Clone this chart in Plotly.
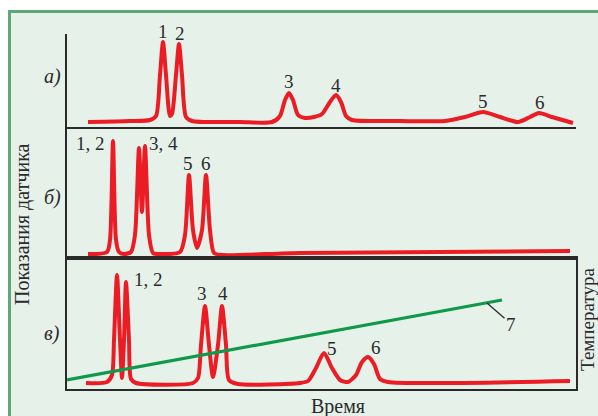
import plotly.graph_objects as go

# ---------------- data (time in arbitrary units, detector signal in arbitrary units) -------------
# a) isothermal, long column
time_a = [4.2, 12.6, 16.6, 17.8, 18.6, 19.2, 19.8, 20.6, 21.0, 21.8, 22.4, 23.0, 23.8, 25.0,
          34.6, 41.0, 42.6, 43.6, 44.4, 45.2, 46.2, 47.6, 49.4, 51.0, 52.6, 53.8, 54.8, 55.8,
          57.0, 66.6, 75.6, 79.6, 83.2, 86.6, 90.2, 92.6, 94.4, 97.0, 101.2]
signal_a = [5, 6, 7, 11, 52, 85, 52, 11, 13, 52, 83, 52, 10, 6,
            5, 5, 11, 27, 34, 27, 12, 9, 10, 13, 25, 32, 25, 11,
            7, 6, 6, 10, 15, 10, 5, 10, 14, 10, 4]

# b) isothermal, higher temperature
time_b = [4.2, 8.0, 8.6, 9.2, 9.8, 10.4, 11.4, 12.8, 13.6, 14.4, 15.0, 15.6, 16.4, 17.2,
          18.6, 22.6, 23.6, 24.4, 25.2, 26.0, 27.0, 27.8, 28.6, 29.4, 31.0, 46.6, 100.6]
signal_b = [4, 6, 18, 117, 18, 6, 4, 6, 23, 110, 46, 112, 23, 5,
            4, 6, 23, 83, 28, 10, 28, 83, 28, 5, 3, 5, 7]

# c) temperature-programmed
time_c = [3.8, 8.0, 9.0, 9.4, 10.0, 10.6, 11.0, 11.4, 11.8, 12.4, 12.8, 13.8, 25.2, 26.2,
          26.8, 27.6, 28.4, 29.2, 30.2, 31.0, 31.8, 32.4, 34.2, 46.6, 48.2, 49.8, 51.4, 53.0,
          54.6, 56.2, 57.8, 59.0, 60.2, 61.4, 62.6, 64.2, 100.6]
signal_c = [6, 7, 14, 49, 114, 49, 11, 49, 107, 49, 10, 6, 6, 11,
            44, 83, 44, 12, 44, 83, 44, 9, 5, 6, 8, 21, 36, 21,
            9, 7, 14, 27, 32, 25, 10, 7, 8]

# 7) temperature programme
time_temp = [0, 87]
temperature = [9, 89]

# peak labels: (text, time, signal, xshift, yshift)
labels_a = [("1", 19.2, 85, 0, 11), ("2", 22.4, 83, 1, 11), ("3", 44.4, 34, 0, 12),
            ("4", 53.8, 32, 0, 10), ("5", 83.2, 15, 0, 11), ("6", 94.4, 14, 1, 11)]
labels_b = [("1, 2", 9.2, 117, -23, -2), ("3, 4", 15.6, 112, 18, 3),
            ("5", 24.4, 83, -1, 12), ("6", 27.8, 83, 0, 12)]
labels_c = [("1, 2", 11.8, 107, 22, 3), ("3", 27.6, 83, -3, 13), ("4", 31.0, 83, 1, 13),
            ("5", 51.4, 36, 8, 5), ("6", 60.2, 32, 8, 10)]

panel_names = ["а)", "б)", "в)"]
x_title = "Время"
y_title = "Показания датчика"
y2_title = "Температура"

# ---------------- figure ----------------
W, H = 598, 416
RED = "#ec1c24"
GREEN = "#10994a"
INK = "#2a2a2a"
FONT = "Liberation Serif"

def px(x):
    return x / W

def py(y):
    return 1 - y / H

fig = go.Figure()
line_red = dict(color=RED, width=4, shape="spline", smoothing=0.7)
fig.add_trace(go.Scatter(x=time_a, y=signal_a, mode="lines", line=line_red,
                         xaxis="x", yaxis="y", showlegend=False, hoverinfo="skip"))
fig.add_trace(go.Scatter(x=time_b, y=signal_b, mode="lines", line=line_red,
                         xaxis="x2", yaxis="y2", showlegend=False, hoverinfo="skip"))
fig.add_trace(go.Scatter(x=time_c, y=signal_c, mode="lines", line=line_red,
                         xaxis="x3", yaxis="y3", showlegend=False, hoverinfo="skip"))
fig.add_trace(go.Scatter(x=time_temp, y=temperature, mode="lines",
                         line=dict(color=GREEN, width=3.2),
                         xaxis="x3", yaxis="y4", showlegend=False, hoverinfo="skip",
                         cliponaxis=False))

xdom = [px(67), px(576)]
common_x = dict(domain=xdom, range=[0, 101.8], showline=True, linecolor=INK, linewidth=2,
                showticklabels=False, showgrid=False, zeroline=False, ticks="", fixedrange=True)
common_y = dict(showline=True, linecolor=INK, linewidth=2, showticklabels=False,
                showgrid=False, zeroline=False, ticks="", fixedrange=True)

fig.update_layout(
    width=W, height=H,
    margin=dict(l=0, r=0, t=0, b=0),
    paper_bgcolor="white",
    plot_bgcolor="rgba(0,0,0,0)",
    xaxis=dict(**common_x, anchor="y"),
    xaxis2=dict(**common_x, anchor="y2"),
    xaxis3=dict(**common_x, anchor="y3", mirror=True),
    yaxis=dict(**common_y, domain=[py(127), py(34)], range=[0, 93], anchor="x"),
    yaxis2=dict(**common_y, domain=[py(258), py(127)], range=[0, 131], anchor="x2"),
    yaxis3=dict(**common_y, domain=[py(389), py(258)], range=[0, 131], anchor="x3", mirror=True),
    yaxis4=dict(overlaying="y3", side="right", range=[0, 131], showline=False,
                showticklabels=False, showgrid=False, zeroline=False, ticks="", anchor="x3"),
    font=dict(family=FONT, size=19, color=INK),
)

# green framed background panel
fig.add_shape(type="rect", xref="paper", yref="paper",
              x0=px(9.5), x1=1.05, y0=-0.05, y1=py(11.5),
              fillcolor="#e6f1ea", line=dict(color="#5ea77b", width=3), layer="below")

ann = []
for lbls, xr, yr in [(labels_a, "x", "y"), (labels_b, "x2", "y2"), (labels_c, "x3", "y3")]:
    for text, t, s, dx, dy in lbls:
        ann.append(dict(text=text, x=t, y=s, xref=xr, yref=yr, xshift=dx, yshift=dy,
                        showarrow=False, xanchor="center", yanchor="middle",
                        font=dict(family=FONT, size=19, color=INK)))

for name, (cx, cy) in zip(panel_names, [(52, 76), (52, 197), (52, 333)]):
    ann.append(dict(text="<i>" + name + "</i>", x=px(cx), y=py(cy), xref="paper", yref="paper",
                    showarrow=False, xanchor="center", yanchor="middle",
                    font=dict(family=FONT, size=20, color=INK)))

# label 7 with leader line
ann.append(dict(text="7", x=84, y=86, xref="x3", yref="y4", showarrow=True, arrowhead=0,
                arrowwidth=1.3, arrowcolor=INK, ax=24, ay=21, standoff=0,
                font=dict(family=FONT, size=19, color=INK)))

ann.append(dict(text=y_title, x=px(22), y=py(224), xref="paper", yref="paper", textangle=-90,
                showarrow=False, xanchor="center", yanchor="middle",
                font=dict(family=FONT, size=20, color=INK)))
ann.append(dict(text=x_title, x=px(338), y=py(406), xref="paper", yref="paper",
                showarrow=False, xanchor="center", yanchor="middle",
                font=dict(family=FONT, size=20, color=INK)))
ann.append(dict(text=y2_title, x=px(587), y=py(320), xref="paper", yref="paper", textangle=-90,
                showarrow=False, xanchor="center", yanchor="middle", borderpad=0,
                font=dict(family=FONT, size=19, color=INK)))

fig.update_layout(annotations=ann)
fig.write_html("out.html", config={"displayModeBar": False},
               post_script="document.body.style.margin='0';document.body.style.overflow='hidden';")
